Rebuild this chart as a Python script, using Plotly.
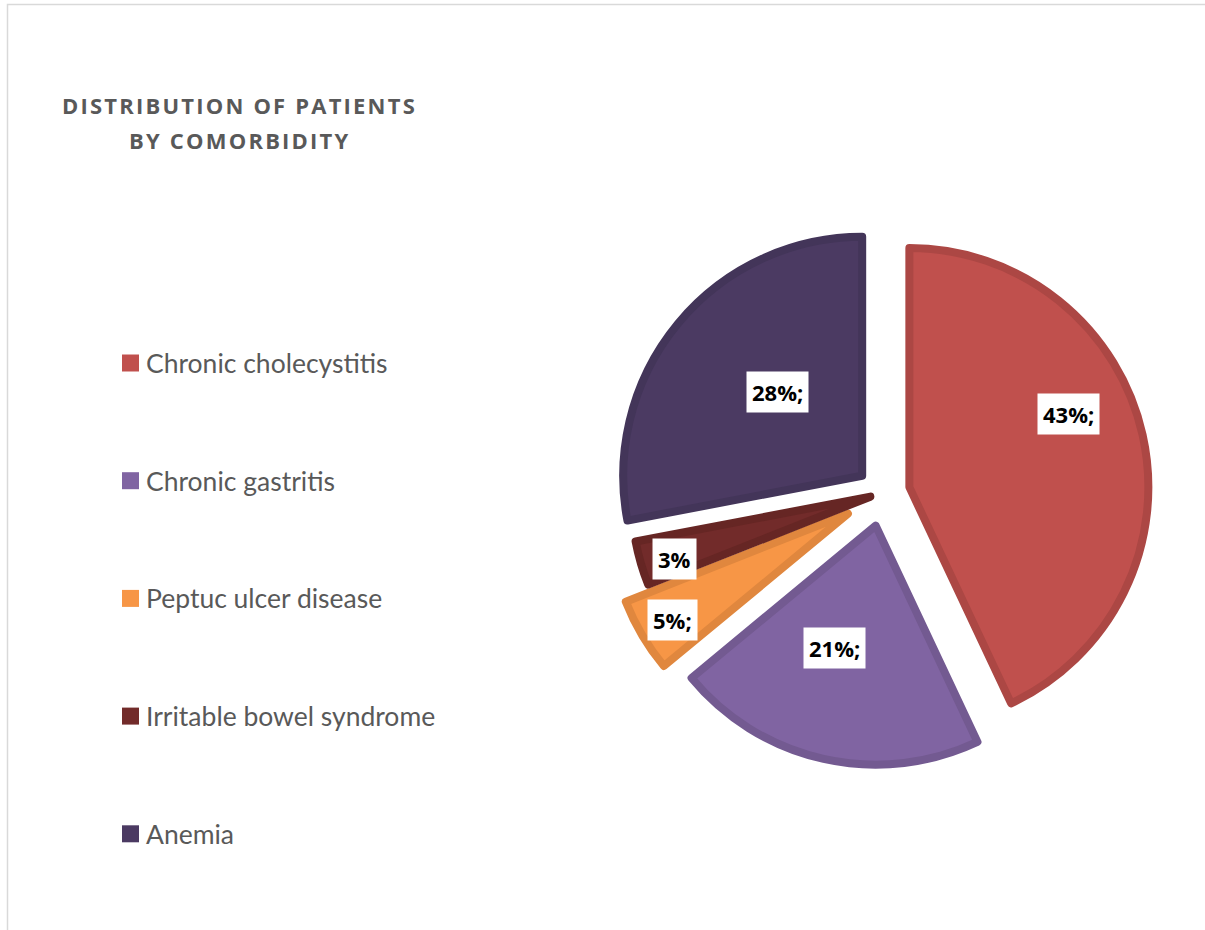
import math
import plotly.graph_objects as go

# ---- data ----
categories = ["Chronic cholecystitis", "Chronic gastritis", "Peptuc ulcer disease",
              "Irritable bowel syndrome", "Anemia"]
values = [43, 21, 5, 3, 28]
label_texts = ["43%;", "21%;", "5%;", "3%", "28%;"]

# ---- styling ----
fill_colors = ["#C0504D", "#8064A2", "#F79646", "#722B2A", "#4B3A62"]
line_colors = ["#AC4744", "#735A91", "#E0873E", "#662624", "#433559"]
pulls = [0.113, 0.14, 0.17, 0.055, 0.113]

W, H = 1205, 930
CX, CY = 883, 493          # pie centre in pixels
R = 239                    # pie radius in pixels
max_pull = max(pulls)
box = R * (2 + 2 * max_pull)
domain_x = [(CX - box / 2) / W, (CX + box / 2) / W]
domain_y = [1 - (CY + box / 2) / H, 1 - (CY - box / 2) / H]

fig = go.Figure()
fig.add_trace(go.Pie(
    labels=categories,
    values=values,
    sort=False,
    direction="clockwise",
    rotation=0,
    pull=pulls,
    marker=dict(colors=fill_colors, line=dict(color=line_colors, width=8)),
    textinfo="none",
    hoverinfo="label+percent",
    showlegend=False,
    domain=dict(x=domain_x, y=domain_y),
))

annotations = []
shapes = []

# data labels in white boxes (positioned from slice geometry)
label_dist = [0.843, 0.678, 1.028, 0.915, 0.61]
label_ang_off = [-10.5, 4.8, -0.4, -1.4, 4.3]
total = sum(values)
cum = 0
for i, v in enumerate(values):
    mid = (cum + v / 2) / total * 360
    cum += v
    ang = math.radians(mid + label_ang_off[i])
    d = label_dist[i] * R
    px = CX + d * math.sin(ang)
    py = CY - d * math.cos(ang)
    annotations.append(dict(
        x=px / W, y=1 - py / H, xref="paper", yref="paper",
        text="<b>%s</b>" % label_texts[i], showarrow=False,
        xanchor="center", yanchor="middle",
        font=dict(family="Open Sans", size=22, color="#000000"),
        bgcolor="#FFFFFF", borderpad=5,
    ))

# title
title_lines = ["DISTRIBUTION OF PATIENTS", "BY COMORBIDITY"]
for j, line in enumerate(title_lines):
    annotations.append(dict(
        x=240 / W, y=1 - (105 + 35 * j) / H, xref="paper", yref="paper",
        text='<span style="letter-spacing:2.2px"><b>%s</b></span>' % line,
        showarrow=False, xanchor="center", yanchor="middle",
        font=dict(family="Open Sans", size=22, color="#595959")))

# legend
leg_y0, leg_step = 363, 117.7
for i, name in enumerate(categories):
    yc = leg_y0 + i * leg_step
    shapes.append(dict(type="rect", xref="paper", yref="paper",
                       x0=122 / W, x1=139 / W, y0=1 - (yc + 8.5) / H, y1=1 - (yc - 8.5) / H,
                       fillcolor=fill_colors[i], line=dict(width=0)))
    annotations.append(dict(x=144 / W, y=1 - yc / H, xref="paper", yref="paper",
                            text=name, showarrow=False, xanchor="left", yanchor="middle",
                            font=dict(family="Lato", size=26.5, color="#595959")))

# chart border
shapes.append(dict(type="rect", xref="paper", yref="paper",
                   x0=7.5 / W, x1=1.02, y0=-0.02, y1=1 - 4.5 / H,
                   line=dict(color="#D9D9D9", width=1.5), fillcolor="rgba(0,0,0,0)"))

fig.update_layout(
    width=W, height=H,
    margin=dict(l=0, r=0, t=0, b=0),
    paper_bgcolor="#FFFFFF", plot_bgcolor="#FFFFFF",
    annotations=annotations, shapes=shapes,
)

fig.write_html("out.html", config={"displayModeBar": False},
               post_script="document.body.style.margin='0';")
